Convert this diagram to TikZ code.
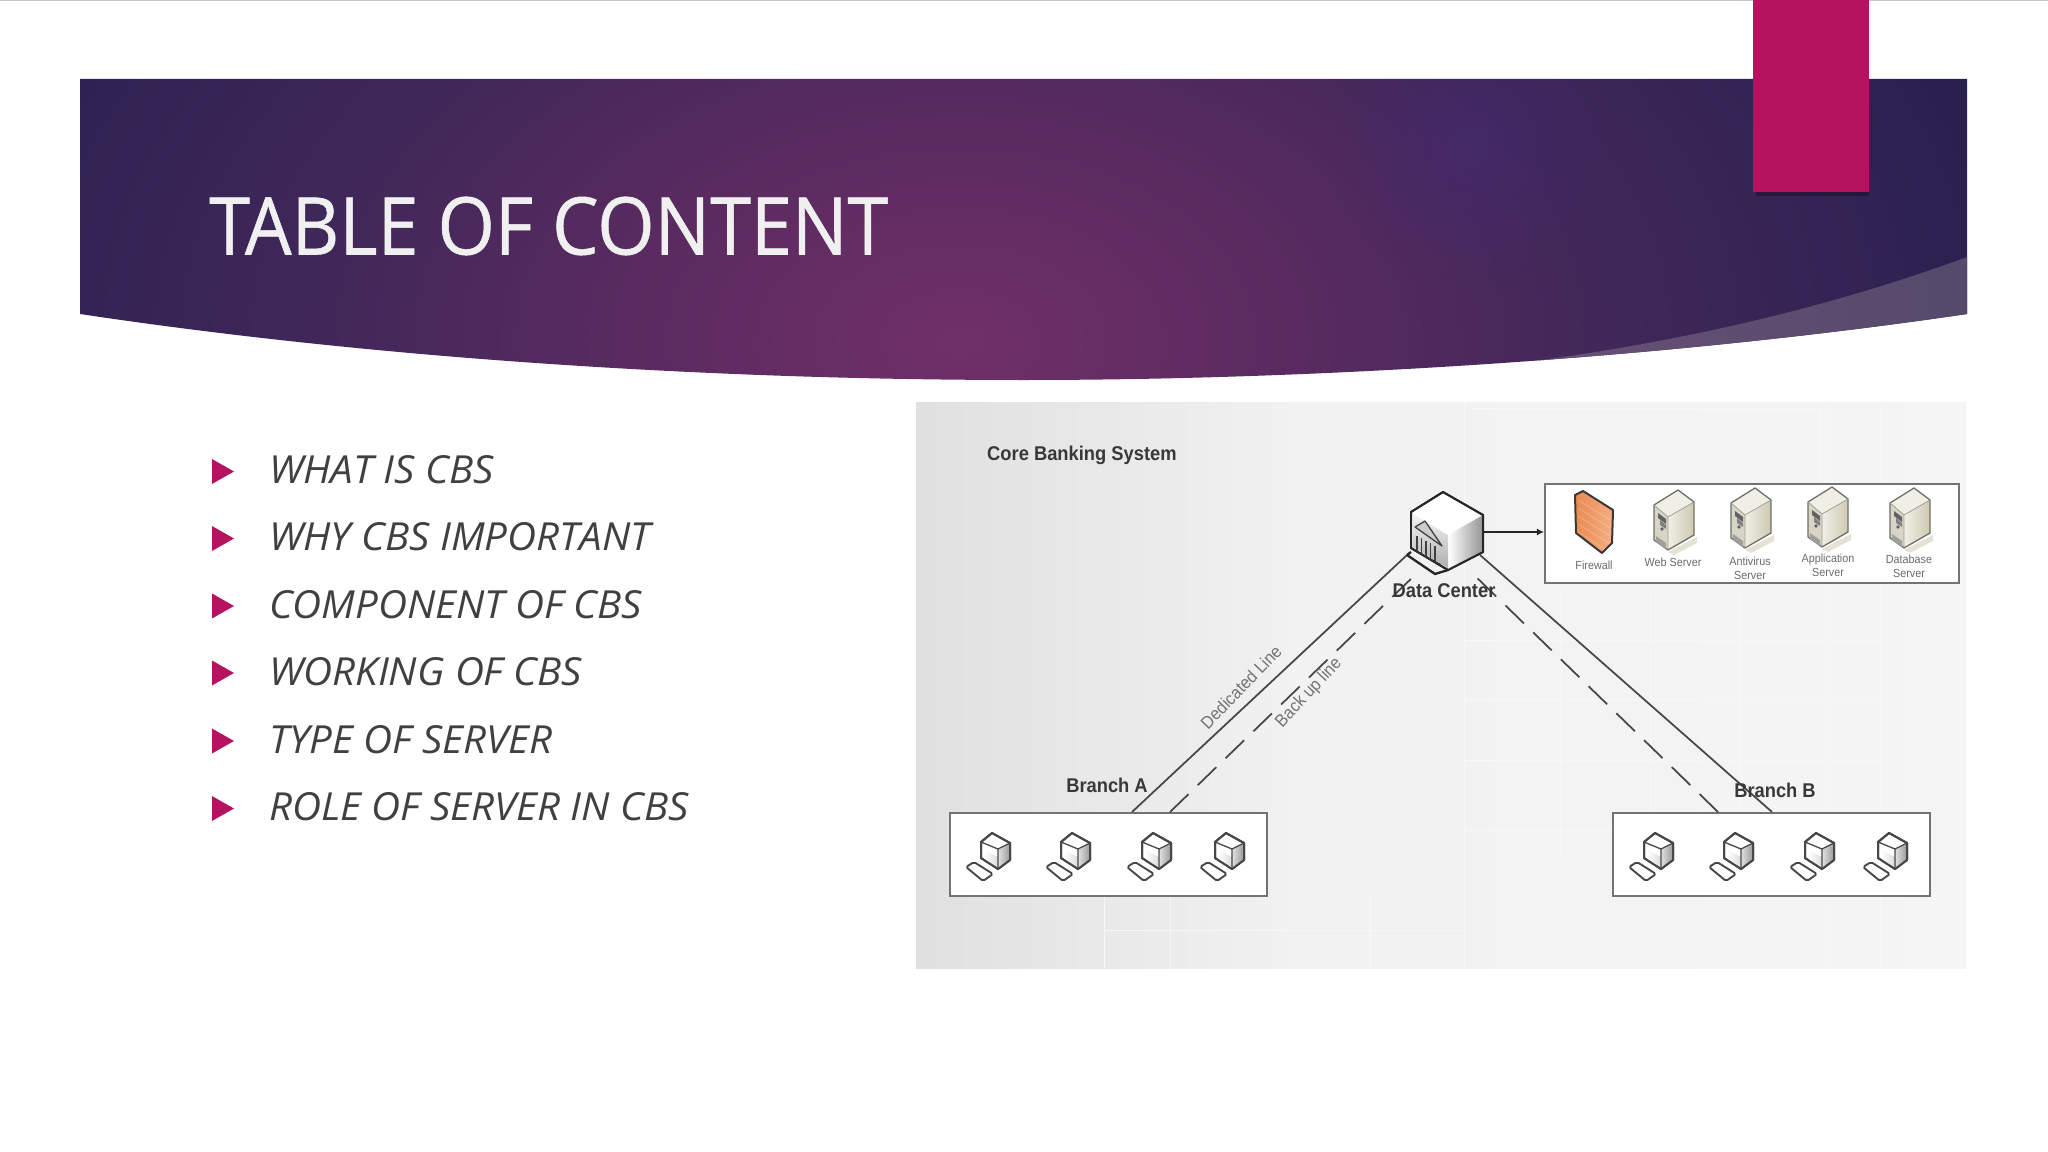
\documentclass[tikz,border=0pt]{standalone}
\usepackage{fontspec}
\setmainfont{Open Sans}
\newfontfamily\titlefont[FakeStretch=0.925,FakeBold=0.7]{Open Sans}
\newfontfamily\listfont[FakeStretch=1.04]{Open Sans}
\newfontfamily\diagfont[FakeStretch=0.92]{Liberation Sans}
\usetikzlibrary{arrows.meta,calc,fadings}
\definecolor{hdrin}{HTML}{702F69}
\definecolor{hdrmid}{HTML}{5A2B60}
\definecolor{hdrlow}{HTML}{3F2759}
\definecolor{hdrout}{HTML}{261F4E}
\definecolor{glowc}{HTML}{432A70}
\definecolor{wingl}{HTML}{6A5078}
\definecolor{wingr}{HTML}{554A6B}
\definecolor{pinktab}{HTML}{B5135F}
\definecolor{bodytext}{HTML}{404040}
\definecolor{gridc}{HTML}{F7F7F8}
\definecolor{srvtop}{HTML}{F0EFE6}
\definecolor{srvleft}{HTML}{D8D5C6}
\definecolor{srvright}{HTML}{CFC9B2}
\definecolor{srvedge}{HTML}{6E6E62}
\definecolor{fwl}{HTML}{E98A50}
\definecolor{fwr}{HTML}{F6AE85}
\pgfdeclareradialshading{hdrshade}{\pgfpoint{0bp}{0bp}}{
 color(0bp)=(hdrin); color(6.5bp)=(hdrmid); color(13bp)=(hdrlow); color(22bp)=(hdrout); color(50bp)=(hdrout)}
\tikzfading[name=softglow,inner color=transparent!40,outer color=transparent!100]
\tikzset{
 x=0.03cm,y=-0.03cm,
 navitem/.style={anchor=base west,inner sep=0pt,font=\listfont\fontsize{33}{33}\selectfont\itshape,text=bodytext},
 bullettri/.style={fill=pinktab,draw=none},
 whitebox/.style={draw=black!55,line width=1.3pt,fill=white,inner sep=0pt,anchor=north west},
 link/.style={draw=black!72,line width=1.5pt},
 backup/.style={draw=black!72,line width=1.5pt,dash pattern=on 22pt off 11pt},
 biglabel/.style={font=\diagfont\bfseries\fontsize{17}{18}\selectfont,text=black!78,inner sep=0pt},
 linelabel/.style={font=\diagfont\fontsize{15}{16}\selectfont,text=black!55,inner sep=0pt},
 tinylabel/.style={font=\diagfont\fontsize{10}{12}\selectfont,text=black!58,inner sep=0pt,align=center},
 pics/pc/.style={code={
  \draw[black!72,line width=1.7pt,line join=round,fill=white] (-3,-17)--(15,-7)--(15,10)--(3,19)--(-14,8)--(-14,-8)--cycle;
  \shade[left color=black!12,right color=black!40] (3,-1)--(15,-7)--(15,10)--(3,19)--cycle;
  \shade[left color=white,right color=black!14] (-11,0)--(3,7)--(3,18)--(-11,9)--cycle;
  \draw[black!72,line width=1.7pt,line join=round] (-3,-17)--(15,-7)--(15,10)--(3,19)--(-14,8)--(-14,-8)--cycle;
  \draw[black!72,line width=1.1pt,line join=round] (-14,-8)--(3,-1)--(15,-7) (3,-1)--(3,19);
  \draw[black!72,line width=1.6pt,line join=round,rounded corners=1.5pt,fill=white] (-29,17)--(-21,12)--(-2,24)--(-12,31)--cycle;
 }},
 pics/srv/.style={code={
  \fill[srvright!55!white] (-6,32)--(23,17)--(23,23)--(0,35)--cycle;
  \fill[srvtop] (-20,-15)--(4,-30)--(20,-18)--(-6,-3)--cycle;
  \fill[srvleft] (-20,-15)--(-6,-3)--(-6,30)--(-20,20)--cycle;
  \shade[left color=srvtop,right color=srvright] (-6,-3)--(20,-18)--(20,15)--(-6,30)--cycle;
  \draw[srvedge,line width=1.1pt,line join=round] (-20,-15)--(4,-30)--(20,-18)--(20,15)--(-6,30)--(-20,20)--cycle;
  \draw[srvedge!70,line width=.6pt] (-20,-15)--(-6,-3)--(20,-18) (-6,-3)--(-6,30);
  \fill[black!62] (-16,-7)--(-8,-1)--(-8,4)--(-16,-2)--cycle;
  \fill[black!50] (-14,0)--(-8,5)--(-8,9)--(-14,5)--cycle;
  \fill[black!62] (-12,9) circle (1.8);
  \fill[black!38] (-18,16)--(-8,23)--(-8,29)--(-18,22)--cycle;
 }},
}
\begin{document}
\begin{tikzpicture}
\useasboundingbox (0,0) rectangle (2048,1152);
\fill[white] (0,0) rectangle (2048,1152);
\fill[black!22] (0,0) rectangle (2048,1.5);
% header
\begin{scope}
\clip (80,79) -- (1967,79) -- (1967,314) .. controls (1640,362) and (1290,380) .. (1024,380) .. controls (740,380) and (400,362) .. (80,314) -- cycle;
\shade[shading=hdrshade] (-315,-485) rectangle (2235,1165);
\fill[glowc,path fading=softglow] (1470,145) circle (140);
\shade[left color=wingl,right color=wingr] (1483,367) .. controls (1640,350) and (1810,315) .. (1967,257) -- (1967,400) -- (1483,400) -- cycle;
\fill[black,opacity=.28] (1756,192) rectangle (1869,196);
\end{scope}
\node[anchor=west,inner sep=0pt,text=white!94!black,font=\titlefont\fontsize{68}{68}\selectfont] (title) at (209,226) {TABLE OF CONTENT};
% tab
\fill[pinktab] (1753,0) rectangle (1869,192);
% list
\foreach \bb/\yy/\txt in {483/471.5/WHAT IS CBS,550.5/538.5/WHY CBS IMPORTANT,618/606/COMPONENT OF CBS,685/673/WORKING OF CBS,753/741/TYPE OF SERVER,820/808.5/ROLE OF SERVER IN CBS}{
  \fill[bullettri] (212,\yy-12.5) -- (234,\yy) -- (212,\yy+12.5) -- cycle;
  \node[navitem] at (269,\bb) {\txt};
}
% image background
\shade[left color=black!6,right color=black!4] (916,402) rectangle (1966,968);
\shade[left color=black!12,right color=black!5.8] (916,402) rectangle (1270,968);
\foreach \xx in {1464,1826,1880}{\draw[gridc,line width=.7pt] (\xx,402)--(\xx,968);}
\draw[gridc,line width=.7pt] (1470,408)--(1820,408)--(1820,480) (1104,930)--(1462,930) (1104,968)--(1104,895) (1170,968)--(1170,895) (1370,968)--(1370,895);
\foreach \yy in {640,700,760,830}{\draw[gridc,line width=.6pt] (1464,\yy)--(1880,\yy);}
\foreach \xx in {1560,1650,1740,1830}{\draw[gridc,line width=.6pt] (\xx,590)--(\xx,860);}
% boxes
\node[whitebox,minimum width=414*0.03cm,minimum height=99*0.03cm] (srvbox) at (1544,483) {};
\node[whitebox,minimum width=317*0.03cm,minimum height=83*0.03cm] (brancha) at (949,812) {};
\node[whitebox,minimum width=317*0.03cm,minimum height=83*0.03cm] (branchb) at (1612,812) {};
% connector ends
\node[minimum width=72*0.03cm,minimum height=80*0.03cm,inner sep=0pt] (dc) at (1447,532) {};
\coordinate (dcL) at (1407,555);
\coordinate (dcLb) at (1417,573);
\coordinate (dcR) at (1480,555);
\coordinate (dcRb) at (1471,572);
\coordinate (aS) at (1132,812);
\coordinate (aD) at (1170,812);
\coordinate (bS) at (1772,812);
\coordinate (bD) at (1718,812);
\draw[link] (dcL) -- (aS);
\draw[link] (dcR) -- (bS);
\draw[backup] (aD) -- (dcLb);
\draw[backup] (bD) -- (dcRb);
\draw[black!85,line width=1.2pt,-{Latex[length=6pt,width=6pt]}] (dc.east |- 0,532) -- (srvbox.west |- 0,532);
% data center cube
\draw[black!85,line width=1.6pt,line join=round,fill=white] (1443,492)--(1483,515)--(1483,552)--(1448,570)--(1411,548)--(1411,512)--cycle;
\shade[left color=white,right color=black!42] (1448,535)--(1483,515)--(1483,552)--(1448,570)--cycle;
\shade[top color=black!4,bottom color=black!32] (1413,514)--(1448,535)--(1448,568)--(1413,547)--cycle;
\draw[black!85,line width=1.7pt,line join=round] (1443,492)--(1483,515)--(1483,552)--(1448,570)--(1411,548)--(1411,512)--cycle;
\draw[black!75,line width=1.1pt,line join=round,fill=white!80!black] (1415,527)--(1425,521)--(1442,546)--cycle;
\foreach \xx in {1417,1421.5,1426,1430.5,1435}{\draw[black!75,line width=1.2pt] (\xx,{536+(\xx-1417)*.55})--(\xx,{551+(\xx-1417)*.55});}
\draw[black!80,line width=1.3pt] (1414,550)--(1441,565);
\draw[black!85,line width=2pt,line join=round] (1407,555)--(1411,552) (1407,555)--(1435,574)--(1448,570);
% pcs
\foreach \xx in {995,1075,1156,1229}{\pic at (\xx,850) {pc};}
\foreach \xx in {1658,1738,1819,1892}{\pic at (\xx,850) {pc};}
% firewall
\shade[left color=fwl,right color=fwr] (1575,495)--(1583,491)--(1613,510)--(1612,543)--(1602,553)--(1576,533)--cycle;
\foreach \dd in {0,8,16,24,32}{\draw[white,line width=.5pt,opacity=.3] (1578,500+\dd)--(1610,520+\dd);}
\draw[black!78,line width=1.7pt,line join=round] (1575,495)--(1583,491)--(1613,510)--(1612,543)--(1602,553)--(1576,533)--cycle;
% servers
\foreach \xx/\yy in {1674/520,1751/518,1828/517,1910/518}{\pic at (\xx,\yy) {srv};}
% labels
\node[biglabel,anchor=west] (cbs) at (987,455) {Core Banking System};
\node[biglabel] (dclbl) at (1444,591) {Data Center};
\node[biglabel] (alabel) at (1107,785) {Branch A};
\node[biglabel] (blabel) at (1775,790) {Branch B};
\node[linelabel,rotate=46] (ded) at (1241,687) {Dedicated Line};
\node[linelabel,rotate=47] (bak) at (1309,693) {Back up line};
\node[tinylabel] (fw) at (1594,565) {Firewall};
\node[tinylabel] (ws) at (1673,562) {Web Server};
\node[tinylabel] (av) at (1750,568) {Antivirus\\Server};
\node[tinylabel] (ap) at (1828,565) {Application\\Server};
\node[tinylabel] (db) at (1909,566) {Database\\Server};
\end{tikzpicture}
\end{document}
